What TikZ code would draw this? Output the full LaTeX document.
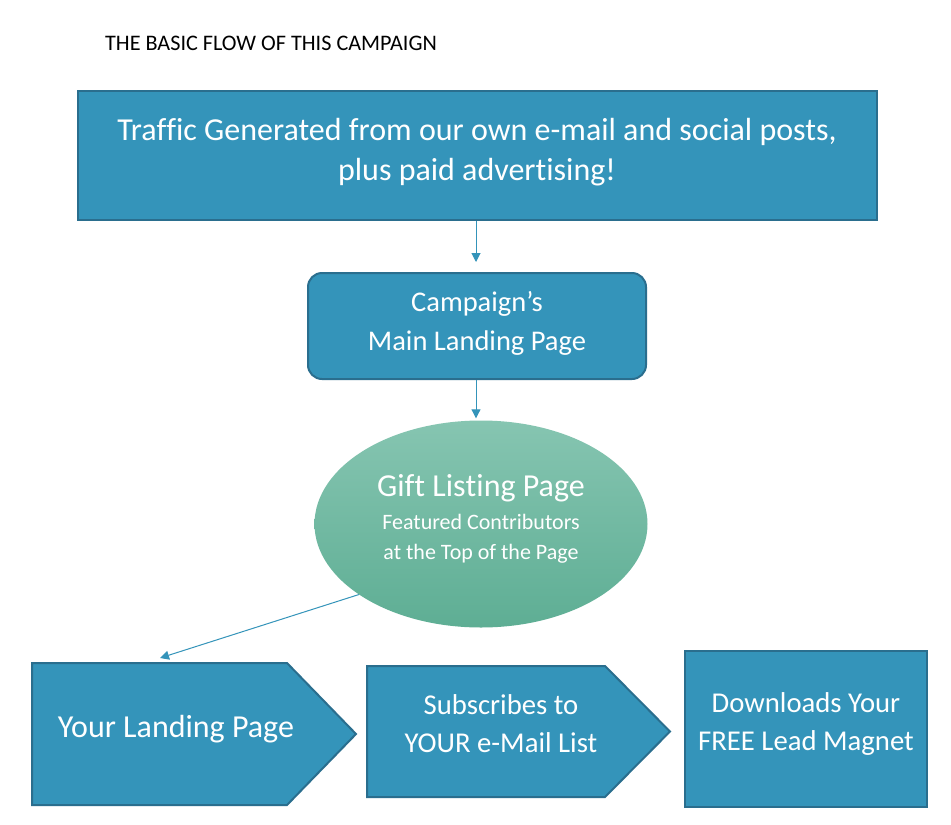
\documentclass[tikz,border=0pt]{standalone}
\usepackage{fontspec}
\setmainfont{Carlito}[RawFeature={-liga;-clig;-dlig}]
\usetikzlibrary{arrows.meta,shapes.geometric}
\definecolor{boxblue}{HTML}{3494BA}
\definecolor{boxedge}{HTML}{2A6E8E}
\definecolor{ellTop}{HTML}{86C5B1}
\definecolor{ellBot}{HTML}{5EAE94}
\newcommand{\nl}{\kern0pt }
\begin{document}
\begin{tikzpicture}[x=1pt,y=-1pt,
  boxstyle/.style={draw=boxedge, line width=2pt, fill=boxblue},
  lbl/.style={text=white, anchor=base, inner sep=0pt},
  conn/.style={draw=boxblue, line width=1pt, -{Triangle[width=9pt,length=9pt]}}]
\useasboundingbox (0,0) rectangle (951,825);
\fill[white] (0,0) rectangle (951,825);
% title
\node[anchor=base, inner sep=0pt, font=\fontsize{22.2}{26}\selectfont] (title) at (271,50) {THE BASIC FLOW OF THIS CAMPAIGN};
% top box
\node[boxstyle, minimum width=799pt, minimum height=129pt, inner sep=0pt] (top) at (477.5,155.5) {};
\node[lbl, font=\fontsize{32}{38}\selectfont] (topA) at (477,140) {Traf\nl f\nl ic Generated from our own e-mail and social posts,};
\node[lbl, font=\fontsize{32}{38}\selectfont] (topB) at (477,180) {plus paid adver\nl t\nl ising!};
% main landing page
\node[boxstyle, rounded corners=14pt, minimum width=338pt, minimum height=106pt, inner sep=0pt] (box2) at (477,326) {};
\node[lbl, font=\fontsize{28.5}{34}\selectfont] (b2A) at (477,311.5) {Campaign’s};
\node[lbl, font=\fontsize{28.5}{34}\selectfont] (b2B) at (477,350.5) {Main Landing Page};
% ellipse
\node[ellipse, minimum width=333pt, minimum height=207pt, inner sep=0pt, draw=none, top color=ellTop, bottom color=ellBot] (ell) at (481,524) {};
\node[lbl, font=\fontsize{32}{38}\selectfont] (eA) at (481,496.7) {Gif\nl t Lis\nl t\nl ing Page};
\node[lbl, font=\fontsize{22}{26}\selectfont] (eB) at (481,529.3) {Featured Contributors};
\node[lbl, font=\fontsize{22}{26}\selectfont] (eC) at (481,559.3) {at the Top of the Page};
% pentagon 1
\path[boxstyle] (32,663) -- (287,663) -- (356,734) -- (287,805) -- (32,805) -- cycle;
\coordinate (p1top) at (160,658);
\node[lbl, font=\fontsize{32}{38}\selectfont] (p1A) at (176,737) {Your Landing Page};
% pentagon 2
\path[boxstyle] (367,666) -- (605,666) -- (670,731.5) -- (605,797) -- (367,797) -- cycle;
\node[lbl, font=\fontsize{28.7}{34}\selectfont] (p2A) at (501,714.6) {Subscribes to};
\node[lbl, font=\fontsize{28.7}{34}\selectfont] (p2B) at (501,752.6) {YOUR e-Mail List};
% box 3
\node[boxstyle, minimum width=242pt, minimum height=156pt, inner sep=0pt] (box3) at (806,729) {};
\node[lbl, font=\fontsize{28.7}{34}\selectfont] (b3A) at (806,712.6) {Downloads Your};
\node[lbl, font=\fontsize{28.7}{34}\selectfont] (b3B) at (806,750.6) {FREE Lead Magnet};
% connectors
\draw[conn, shorten >=10pt] (top.south -| 476,0) -- (box2.north -| 476,0);
\draw[conn, shorten >=2pt] (box2.south -| 476,0) -- (ell.north -| 476,0);
\draw[conn] (ell.210) -- (p1top);
\end{tikzpicture}
\end{document}
